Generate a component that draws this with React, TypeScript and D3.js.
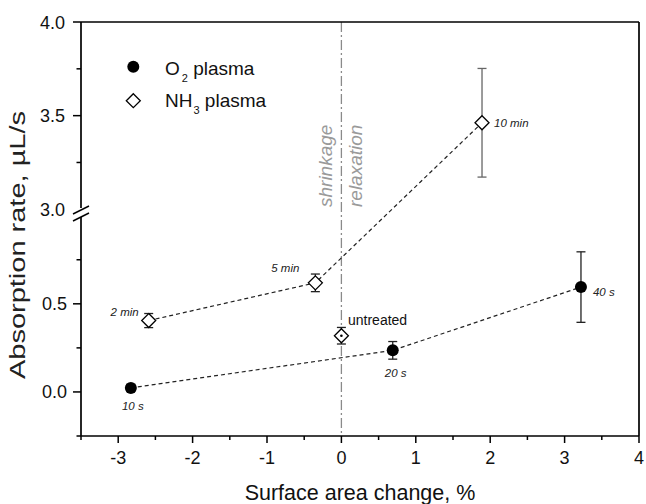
import React from "react";
import * as d3 from "d3";

// ---- data ----
const o2Labels = ["10 s", "20 s", "40 s"];
const o2X = [-2.83, 0.69, 3.22];
const o2Y = [0.023, 0.236, 0.595];
const o2Err = [0.02, 0.05, 0.2];

const nh3Labels = ["2 min", "5 min", "10 min"];
const nh3X = [-2.59, -0.35, 1.89];
const nh3Y = [0.405, 0.619, 3.462];
const nh3Err = [0.04, 0.05, 0.29];

const untreatedX = [0];
const untreatedY = [0.319];
const untreatedErr = [0.047];

const xMajor = [-3, -2, -1, 0, 1, 2, 3, 4];
const xMinor = [-3.5, -2.5, -1.5, -0.5, 0.5, 1.5, 2.5, 3.5];
const yLowMajor = [0, 0.5];
const yLowMinor = [-0.25, 0.25, 0.75];
const yHighMajor = [3.0, 3.5, 4.0];
const yHighMinor = [3.25, 3.75];

const FONT = "'Liberation Sans', Arial, Helvetica, sans-serif";

export default function App() {
  const L = 81, R = 639, T = 22, B = 436;
  const x = d3.scaleLinear().domain([-3.5, 4]).range([L, R]);
  const yLow = d3.scaleLinear().domain([-0.25, 1.0]).range([B, 215.7]);
  const yHigh = d3.scaleLinear().domain([3.0, 4.0]).range([209.3, T]);
  const y = (v: number) => (v >= 2 ? yHigh(v) : yLow(v));

  const line = d3
    .line<[number, number]>()
    .x((d) => x(d[0]))
    .y((d) => y(d[1]));

  const o2Pts: [number, number][] = o2X.map((v, i) => [v, o2Y[i]]);
  const nh3Pts: [number, number][] = nh3X.map((v, i) => [v, nh3Y[i]]);

  const diamond = (cx: number, cy: number, s: number) =>
    `M${cx},${cy - s}L${cx + s},${cy}L${cx},${cy + s}L${cx - s},${cy}Z`;

  const errBar = (xv: number, yv: number, e: number, color: string, key: string) => {
    const px = x(xv);
    const y1 = y(yv + e);
    const y2 = y(yv - e);
    return (
      <g key={key} stroke={color} strokeWidth={1.3}>
        <line x1={px} x2={px} y1={y1} y2={y2} />
        <line x1={px - 4.5} x2={px + 4.5} y1={y1} y2={y1} />
        <line x1={px - 4.5} x2={px + 4.5} y1={y2} y2={y2} />
      </g>
    );
  };

  const tickFont = 18;

  return (
    <svg width={646} height={504} style={{ position: "absolute", left: 0, top: 0 }} fontFamily={FONT}>
      <rect x={0} y={0} width={646} height={504} fill="#fff" />

      {/* vertical dash-dot line at 0 */}
      <line x1={x(0)} x2={x(0)} y1={T} y2={B} stroke="#8a8a8a" strokeWidth={1.3} strokeDasharray="10,3,2,3" />
      <text transform={`translate(332,207) rotate(-90)`} fontSize={19} fontStyle="italic" fill="#9a9a9a">
        shrinkage
      </text>
      <text transform={`translate(362,207) rotate(-90)`} fontSize={19} fontStyle="italic" fill="#9a9a9a">
        relaxation
      </text>

      {/* frame */}
      <g stroke="#000" strokeWidth={1.7} fill="none">
        <line x1={L} x2={R} y1={T} y2={T} />
        <line x1={R} x2={R} y1={T} y2={B} />
        <line x1={L} x2={R} y1={B} y2={B} />
        <line x1={L} x2={L} y1={T} y2={208} />
        <line x1={L} x2={L} y1={217} y2={B} />
        {/* break marks */}
        <line x1={73} x2={89} y1={214} y2={206} strokeWidth={1.5} />
        <line x1={73} x2={89} y1={221} y2={213} strokeWidth={1.5} />
      </g>

      {/* ticks */}
      <g stroke="#000" strokeWidth={1.5}>
        {xMajor.map((v) => (
          <line key={"xM" + v} x1={x(v)} x2={x(v)} y1={B} y2={B + 7} />
        ))}
        {xMinor.map((v) => (
          <line key={"xm" + v} x1={x(v)} x2={x(v)} y1={B} y2={B + 4} />
        ))}
        {yLowMajor.map((v) => (
          <line key={"yLM" + v} x1={L - 8} x2={L} y1={yLow(v)} y2={yLow(v)} />
        ))}
        {yLowMinor.map((v) => (
          <line key={"yLm" + v} x1={L - 4.5} x2={L} y1={yLow(v)} y2={yLow(v)} />
        ))}
        {yHighMajor
          .filter((v) => v > 3)
          .map((v) => (
            <line key={"yHM" + v} x1={L - 8} x2={L} y1={yHigh(v)} y2={yHigh(v)} />
          ))}
        {yHighMinor.map((v) => (
          <line key={"yHm" + v} x1={L - 4.5} x2={L} y1={yHigh(v)} y2={yHigh(v)} />
        ))}
      </g>
      <g fontSize={tickFont} fill="#111">
        {xMajor.map((v) => (
          <text key={"xl" + v} x={x(v)} y={464} textAnchor="middle">
            {v}
          </text>
        ))}
        {yLowMajor.map((v) => (
          <text key={"yll" + v} x={67} y={yLow(v) + 6.5} textAnchor="end">
            {v.toFixed(1)}
          </text>
        ))}
        {yHighMajor.map((v) => (
          <text key={"yhl" + v} x={65} y={yHigh(v) + 6.5} textAnchor="end">
            {v.toFixed(1)}
          </text>
        ))}
      </g>

      {/* axis titles */}
      <text x={360} y={500} textAnchor="middle" fontSize={21.5} fill="#111">
        Surface area change, %
      </text>
      <text
        transform={`translate(25,245) rotate(-90)`}
        textAnchor="middle"
        fontSize={22}
        fill="#222"
        textLength={268}
        lengthAdjust="spacingAndGlyphs"
      >
        Absorption rate, µL/s
      </text>

      {/* dashed connecting lines */}
      <path d={line(o2Pts) || ""} fill="none" stroke="#222" strokeWidth={1.2} strokeDasharray="4,3" />
      <path d={line(nh3Pts) || ""} fill="none" stroke="#222" strokeWidth={1.2} strokeDasharray="4,3" />

      {/* error bars */}
      {o2X.map((v, i) => errBar(v, o2Y[i], o2Err[i], "#222", "eo" + i))}
      {nh3X.map((v, i) => errBar(v, nh3Y[i], nh3Err[i], i === 2 ? "#666" : "#222", "en" + i))}
      {untreatedX.map((v, i) => errBar(v, untreatedY[i], untreatedErr[i], "#222", "eu" + i))}

      {/* markers */}
      {o2X.map((v, i) => (
        <circle key={"o" + i} cx={x(v)} cy={y(o2Y[i])} r={6} fill="#000" />
      ))}
      {nh3X.map((v, i) => (
        <path key={"n" + i} d={diamond(x(v), y(nh3Y[i]), 7)} fill="#fff" stroke="#000" strokeWidth={1.3} />
      ))}
      {untreatedX.map((v, i) => (
        <g key={"u" + i}>
          <path d={diamond(x(v), y(untreatedY[i]), 7)} fill="#fff" stroke="#000" strokeWidth={1.3} />
          <circle cx={x(v)} cy={y(untreatedY[i])} r={1.3} fill="#000" />
        </g>
      ))}

      {/* point labels */}
      <g fontSize={11.5} fontStyle="italic" fill="#222">
        <text x={x(o2X[0]) + 2} y={410} textAnchor="middle">{o2Labels[0]}</text>
        <text x={x(o2X[1]) + 3} y={377} textAnchor="middle">{o2Labels[1]}</text>
        <text x={x(o2X[2]) + 12} y={296}>{o2Labels[2]}</text>
        <text x={x(nh3X[0]) - 10} y={316} textAnchor="end">{nh3Labels[0]}</text>
        <text x={x(nh3X[1]) - 16} y={272} textAnchor="end">{nh3Labels[1]}</text>
        <text x={x(nh3X[2]) + 12} y={127}>{nh3Labels[2]}</text>
      </g>
      <text x={348} y={325} fontSize={14} fill="#111">untreated</text>

      {/* legend */}
      <circle cx={133.3} cy={66.7} r={6} fill="#000" />
      <path d={diamond(133.3, 100.7, 7)} fill="#fff" stroke="#000" strokeWidth={1.3} />
      <text x={165} y={75} fontSize={19} fill="#111">
        O<tspan fontSize={11} dx={2} dy={7}>2</tspan>
        <tspan dy={-7}> plasma</tspan>
      </text>
      <text x={165} y={107} fontSize={19} fill="#111">
        NH<tspan fontSize={11} dx={1} dy={7}>3</tspan>
        <tspan dy={-7}> plasma</tspan>
      </text>
    </svg>
  );
}
